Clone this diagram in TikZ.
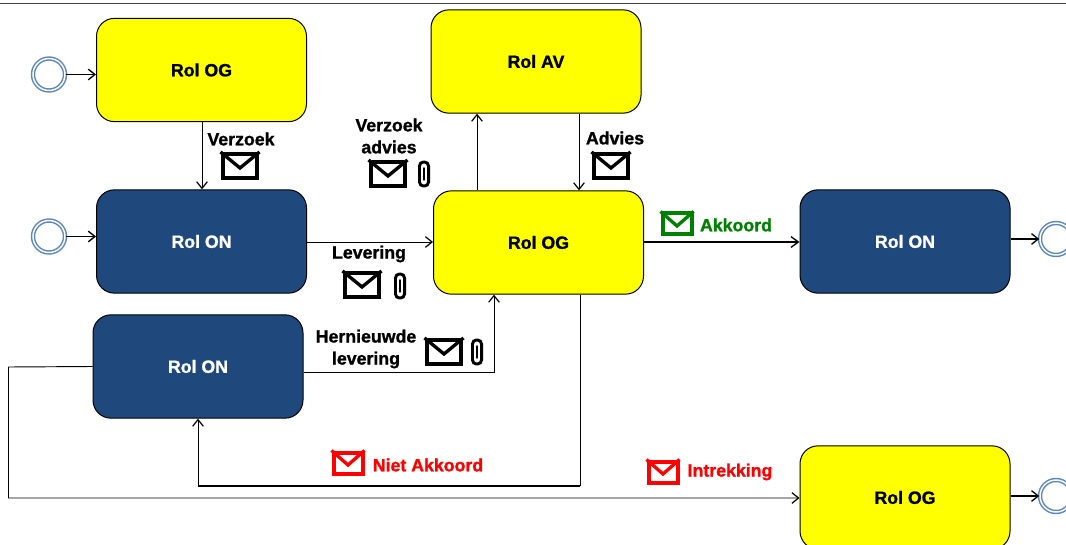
\documentclass[tikz,border=0pt]{standalone}
\usepackage{fontspec}
\setmainfont{Liberation Sans}[BoldFeatures={FakeBold=1.2}]
\usetikzlibrary{arrows.meta,calc}
\definecolor{taskyellow}{RGB}{255,255,0}
\definecolor{navy}{RGB}{31,73,125}
\definecolor{ringblue}{RGB}{91,134,190}
\definecolor{okgreen}{RGB}{0,128,0}
\definecolor{nokred}{RGB}{255,0,0}
\definecolor{white}{RGB}{255,255,255}
\definecolor{ink}{RGB}{0,0,0}
\tikzset{
  x=0.75pt,y=-0.75pt,
  task/.style={draw=ink,line width=0.75pt,rounded corners=13.5pt,minimum width=157.5pt,minimum height=77.5pt,inner sep=0pt,font=\fontsize{13.3}{15}\selectfont\bfseries},
  yellowtask/.style={task,fill=taskyellow,text=ink},
  navytask/.style={task,fill=navy,text=white},
  ringout/.style={circle,draw=ringblue,line width=1.1pt,minimum size=24pt,inner sep=0pt,double=white,double distance=1.1pt},
  lbl/.style={font=\fontsize{13.3}{16.5}\selectfont\bfseries,align=center,inner sep=0pt},
  flow/.style={draw=ink,line width=1.1pt,-{Straight Barb[length=5pt,width=8pt,line width=1pt]}},
  flowthin/.style={draw=ink,line width=0.7pt,-{Straight Barb[length=5pt,width=8pt,line width=0.9pt]}},
  flowplain/.style={draw=ink,line width=0.75pt},
  flowthick/.style={draw=ink,line width=1.5pt,-{Straight Barb[length=5.5pt,width=8pt,line width=1pt]}},
  bigenv/.style={draw=#1,line width=3.2pt,minimum width=26pt,minimum height=17.8pt,inner sep=0pt,fill=white},
  smallenv/.style={draw=#1,line width=3pt,minimum width=21.75pt,minimum height=15.75pt,inner sep=0pt,fill=white},
  clipbody/.style={draw=ink,line width=2.2pt,fill=white,rounded corners=3pt,minimum width=6.8pt,minimum height=18pt,inner sep=0pt}
}
\newcommand{\mailicon}[4]{%
  \node[#4=#3] (#1) at (#2) {};
  \draw[#3,line width=2.5pt,line join=miter]
    (#1.north west) -- ($(#1.center)+(0,2)$) -- (#1.north east);
}
\newcommand{\clipicon}[2]{%
  \node[clipbody] (#1) at (#2) {};
  \draw[ink,line width=1.1pt,line cap=round] ($(#1.center)+(0,-6)$) -- ($(#1.center)+(0,6)$);
}
\newcommand{\rolname}[1]{\raisebox{-0.8pt}{#1}}
\begin{document}
\begin{tikzpicture}
\useasboundingbox (0,0) rectangle (1066,545);
\clip (0,0) rectangle (1066,545);
\fill[white] (0,0) rectangle (1066,545);
\coordinate (tl) at (0,3.5);
\coordinate (tr) at (1066,3.5);
\draw[ink!75,line width=0.8pt] (tl) -- (tr);

% tasks
\node[yellowtask] (og1) at (201.5,70) {\rolname{Rol OG}};
\node[navytask]   (on1) at (201.5,241.5) {\rolname{Rol ON}};
\node[navytask]   (on2) at (198,366.5) {\rolname{Rol ON}};
\node[yellowtask] (av)  at (536,61.5) {\rolname{Rol AV}};
\node[yellowtask] (og2) at (538.5,242.5) {\rolname{Rol OG}};
\node[navytask]   (on3) at (905,241.5) {\rolname{Rol ON}};
\node[yellowtask] (og3) at (905,497.5) {\rolname{Rol OG}};

% events
\node[ringout] (s1) at (49,74.5) {};
\node[ringout] (s2) at (49,236.5) {};
\node[ringout] (e1) at (1056,239) {};
\node[ringout] (e2) at (1056,496) {};

% routing points
\coordinate (og1o) at (202,0 |- og1.south);
\coordinate (on1i) at (202,0 |- on1.north);
\coordinate (og2u) at (477,0 |- og2.north);
\coordinate (avu)  at (477,0 |- av.south);
\coordinate (avd)  at (579,0 |- av.south);
\coordinate (og2d) at (579,0 |- og2.north);
\coordinate (on2a) at (on2.east |- 0,372);
\coordinate (ben1) at (494,372);
\coordinate (og2b) at (494,0 |- og2.south);
\coordinate (og2r) at (580,0 |- og2.south);
\coordinate (ben2) at (580,485.5);
\coordinate (ben3) at (198,485.5);
\coordinate (ben4) at (8.5,367);
\coordinate (ben5) at (8.5,498);
\coordinate (og3a) at (og3.west |- 0,498);

% connectors
\draw[flow] (s1.east) -- (s1.east -| og1.west);
\draw[flow] (s2.east) -- (s2.east -| on1.west);
\draw[flowthin] (og1o) -- (on1i);
\draw[flowthin] (on1.east |- 0,242) -- (og2.west |- 0,242);
\draw[flowthin] (og2u) -- (avu);
\draw[flowthin] (avd) -- (og2d);
\draw[flowthick] (og2.east |- 0,242) -- (on3.west |- 0,242);
\draw[flowthin] (on2a) -- (ben1) -- (og2b);
\draw[flowplain] (og2r) -- (ben2);
\draw[draw=ink,line width=1.5pt] (ben2) -- (ben3);
\draw[flowthin] (ben3) -- (on2.south -| ben3);
\draw[flowthin] (on2.west) -- (ben4) -- (ben5) -- (og3a);
\draw[flow] (on3.east |- e1.west) -- (e1.west);
\draw[flow] (og3.east |- e2.west) -- (e2.west);

% labels and icons
\node[lbl] (l1) at (241,139) {Verzoek};
\mailicon{m1}{240,166}{ink}{bigenv}
\node[lbl] (l2) at (389,136) {Verzoek\\advies};
\mailicon{m2}{388,174}{ink}{bigenv}
\clipicon{c2}{424,174}
\node[lbl] (l3) at (615,138) {Advies};
\mailicon{m3}{611,166}{ink}{bigenv}
\node[lbl] (l4) at (369,254) {Levering};
\mailicon{m4}{362,285}{ink}{bigenv}
\clipicon{c4}{400,286}
\node[lbl] (l5) at (366,349) {Hernieuwde\\levering};
\mailicon{m5}{444,352}{ink}{bigenv}
\clipicon{c5}{477,352}
\mailicon{m6}{677,224}{okgreen}{smallenv}
\node[lbl,text=okgreen] (l6) at (736,225) {Akkoord};
\mailicon{m7}{348,463}{nokred}{smallenv}
\node[lbl,text=nokred] (l7) at (428,465) {Niet Akkoord};
\mailicon{m8}{663,472}{nokred}{smallenv}
\node[lbl,text=nokred] (l8) at (730,472) {Intrekking};
\end{tikzpicture}
\end{document}
